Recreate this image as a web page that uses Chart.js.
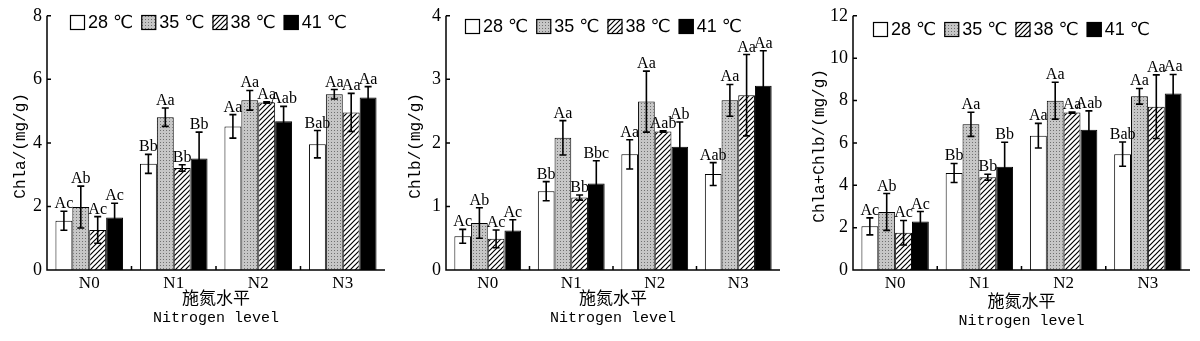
<!DOCTYPE html>
<html><head><meta charset="utf-8">
<script src="https://cdn.jsdelivr.net/npm/chart.js@4.4.0/dist/chart.umd.min.js"></script>
<style>
html,body{margin:0;padding:0;background:#fff;width:1200px;height:341px;overflow:hidden}
canvas{position:absolute;top:0}
</style></head><body>
<canvas id="c1" width="400" height="341" style="left:0px"></canvas>
<canvas id="c2" width="400" height="341" style="left:400px"></canvas>
<canvas id="c3" width="400" height="341" style="left:800px"></canvas>
<script>
// ---------- DATA ----------
const categories = ['N0', 'N1', 'N2', 'N3'];
const seriesNames = ['28 ℃', '35 ℃', '38 ℃', '41 ℃'];

const yTicksChla = [0, 2, 4, 6, 8];
const yTicksChlb = [0, 1, 2, 3, 4];
const yTicksTotal = [0, 2, 4, 6, 8, 10, 12];

// Chla (one row per temperature series, columns N0..N3)
const chlaValues = [
  [1.55, 3.34, 4.52, 3.96],
  [1.98, 4.81, 5.34, 5.53],
  [1.26, 3.21, 5.27, 4.96],
  [1.65, 3.51, 4.68, 5.43]
];
const chlaErrors = [
  [0.30, 0.30, 0.37, 0.43],
  [0.66, 0.29, 0.31, 0.15],
  [0.42, 0.10, 0.02, 0.60],
  [0.45, 0.83, 0.47, 0.34]
];
const chlaLetters = [
  ['Ac', 'Bb', 'Aa', 'Bab'],
  ['Ab', 'Aa', 'Aa', 'Aa'],
  ['Ac', 'Bb', 'Aa', 'Aa'],
  ['Ac', 'Bb', 'Aab', 'Aa']
];

// Chlb
const chlbValues = [
  [0.53, 1.24, 1.82, 1.51],
  [0.74, 2.08, 2.65, 2.67],
  [0.49, 1.14, 2.18, 2.75],
  [0.62, 1.36, 1.94, 2.90]
];
const chlbErrors = [
  [0.11, 0.15, 0.23, 0.18],
  [0.24, 0.27, 0.48, 0.25],
  [0.14, 0.04, 0.01, 0.64],
  [0.17, 0.36, 0.39, 0.55]
];
const chlbLetters = [
  ['Ac', 'Bb', 'Aa', 'Aab'],
  ['Ab', 'Aa', 'Aa', 'Aa'],
  ['Ac', 'Bb', 'Aab', 'Aa'],
  ['Ac', 'Bbc', 'Ab', 'Aa']
];

// Chla+Chlb
const totalValues = [
  [2.06, 4.58, 6.34, 5.47],
  [2.74, 6.88, 7.99, 8.20],
  [1.76, 4.38, 7.43, 7.71],
  [2.29, 4.87, 6.62, 8.33]
];
const totalErrors = [
  [0.40, 0.45, 0.58, 0.57],
  [0.87, 0.57, 0.87, 0.37],
  [0.58, 0.14, 0.03, 1.50],
  [0.47, 1.16, 0.89, 0.90]
];
const totalLetters = [
  ['Ac', 'Bb', 'Aa', 'Bab'],
  ['Ab', 'Aa', 'Aa', 'Aa'],
  ['Ac', 'Bb', 'Aa', 'Aa'],
  ['Ac', 'Bb', 'Aab', 'Aa']
];

// ---------- PATTERNS ----------
function dotPattern() {
  const c = document.createElement('canvas'); c.width = 3; c.height = 3;
  const x = c.getContext('2d');
  x.fillStyle = '#c6c6c6'; x.fillRect(0, 0, 3, 3);
  x.fillStyle = '#707070'; x.fillRect(1, 1, 1, 1);
  return x.createPattern(c, 'repeat');
}
function hatchPattern() {
  const s = 5;
  const c = document.createElement('canvas'); c.width = s; c.height = s;
  const x = c.getContext('2d');
  x.fillStyle = '#fff'; x.fillRect(0, 0, s, s);
  x.strokeStyle = '#000'; x.lineWidth = 1.2;
  x.beginPath();
  for (const o of [-s, 0, s]) { x.moveTo(o - 1, s + 1); x.lineTo(o + s + 1, -1); }
  x.stroke();
  return x.createPattern(c, 'repeat');
}
const fills = ['#ffffff', dotPattern(), hatchPattern(), '#000000'];

// ---------- CHART BUILDER ----------
function decor(cfg) {
  return {
    id: 'decor',
    afterDatasetsDraw(chart) {
      const ctx = chart.ctx, ys = chart.scales.y;
      ctx.save();
      chart.data.datasets.forEach((ds, di) => {
        const meta = chart.getDatasetMeta(di);
        meta.data.forEach((bar, j) => {
          const v = ds.data[j], e = ds.errors[j];
          const yT = ys.getPixelForValue(v + e), yB = ys.getPixelForValue(v - e);
          ctx.strokeStyle = '#000'; ctx.lineWidth = 1.6;
          ctx.beginPath();
          ctx.moveTo(bar.x, yT); ctx.lineTo(bar.x, yB);
          ctx.moveTo(bar.x - 3.5, yT); ctx.lineTo(bar.x + 3.5, yT);
          ctx.moveTo(bar.x - 3.5, yB); ctx.lineTo(bar.x + 3.5, yB);
          ctx.stroke();
          ctx.fillStyle = '#000';
          ctx.font = '16px "Liberation Serif"';
          ctx.textAlign = 'center'; ctx.textBaseline = 'alphabetic';
          ctx.fillText(ds.letters[j], bar.x, yT - 3);
        });
      });
      ctx.restore();
    },
    afterDraw(chart) {
      const ctx = chart.ctx, a = chart.chartArea, xs = chart.scales.x, ys = chart.scales.y;
      ctx.save();
      ctx.strokeStyle = '#000'; ctx.lineWidth = 1.5;
      ctx.beginPath();
      ctx.moveTo(a.left, a.top); ctx.lineTo(a.left, a.bottom); ctx.lineTo(a.right, a.bottom);
      ys.ticks.forEach(t => {
        const y = ys.getPixelForValue(t.value);
        ctx.moveTo(a.left, y); ctx.lineTo(a.left + 4, y);
      });
      for (let i = 0; i < categories.length - 1; i++) {
        const x = (xs.getPixelForValue(i) + xs.getPixelForValue(i + 1)) / 2;
        ctx.moveTo(x, a.bottom); ctx.lineTo(x, a.bottom - 4);
      }
      ctx.stroke();
      // axis titles
      ctx.fillStyle = '#000';
      ctx.textAlign = 'center'; ctx.textBaseline = 'middle';
      const cx = (a.left + a.right) / 2;
      ctx.font = '17px "Noto Sans CJK SC"';
      ctx.fillText('施氮水平', cx, cfg.xTitleY);
      ctx.font = '15px "Liberation Mono"';
      ctx.fillText('Nitrogen level', cx, cfg.xTitleY + 20);
      ctx.save();
      ctx.translate(cfg.yTitleX, (a.top + a.bottom) / 2 + 3);
      ctx.rotate(-Math.PI / 2);
      ctx.font = '16px "Liberation Mono"';
      ctx.fillText(cfg.yTitle, 0, 0);
      ctx.restore();
      // legend
      let lx = a.left + cfg.legendX;
      const ly = cfg.legendY;
      ctx.font = '18px "Liberation Sans", "DejaVu Sans"';
      ctx.textAlign = 'left'; ctx.textBaseline = 'middle';
      chart.data.datasets.forEach(ds => {
        ctx.fillStyle = ds.backgroundColor;
        ctx.fillRect(lx, ly, 15, 15);
        ctx.lineWidth = 1.2; ctx.strokeStyle = '#000';
        ctx.strokeRect(lx + 0.5, ly + 0.5, 14, 14);
        ctx.fillStyle = '#000';
        ctx.fillText(ds.label, lx + 18, ly + 8);
        lx += 18 + ctx.measureText(ds.label).width + 8;
      });
      ctx.restore();
    }
  };
}

function buildChart(id, cfg) {
  const datasets = seriesNames.map((name, i) => ({
    label: name,
    data: cfg.values[i],
    errors: cfg.errors[i],
    letters: cfg.letters[i],
    backgroundColor: fills[i],
    borderColor: '#000',
    borderWidth: 1,
    categoryPercentage: 0.8,
    barPercentage: 1.0
  }));
  return new Chart(document.getElementById(id), {
    type: 'bar',
    data: { labels: categories, datasets },
    options: {
      responsive: false,
      animation: false,
      layout: { padding: { top: 12, right: cfg.padRight, left: 0, bottom: 0 } },
      plugins: { legend: { display: false }, tooltip: { enabled: false } },
      scales: {
        x: {
          grid: { display: false, drawTicks: false },
          border: { display: false },
          ticks: { color: '#000', font: { family: 'Liberation Serif', size: 17 }, padding: 3 },
          afterFit: s => { s.height = 71; }
        },
        y: {
          min: cfg.ticks[0], max: cfg.ticks[cfg.ticks.length - 1],
          afterBuildTicks: s => { s.ticks = cfg.ticks.map(v => ({ value: v })); },
          grid: { display: false, drawTicks: false },
          border: { display: false },
          ticks: { color: '#000', font: { family: 'Liberation Serif', size: 18 }, padding: 5 },
          afterFit: s => { s.width = cfg.yAxisW; }
        }
      }
    },
    plugins: [decor(cfg)]
  });
}

buildChart('c1', {
  values: chlaValues, errors: chlaErrors, letters: chlaLetters, ticks: yTicksChla,
  yAxisW: 47, padRight: 15, yTitle: 'Chla/(mg/g)', yTitleX: 21,
  legendX: 23, legendY: 15, xTitleY: 298
});
buildChart('c2', {
  values: chlbValues, errors: chlbErrors, letters: chlbLetters, ticks: yTicksChlb,
  yAxisW: 46, padRight: 20, yTitle: 'Chlb/(mg/g)', yTitleX: 15.5,
  legendX: 19, legendY: 19, xTitleY: 298
});
buildChart('c3', {
  values: totalValues, errors: totalErrors, letters: totalLetters, ticks: yTicksTotal,
  yAxisW: 53, padRight: 10, yTitle: 'Chla+Chlb/(mg/g)', yTitleX: 19.5,
  legendX: 20, legendY: 22, xTitleY: 301
});
</script>
</body></html>
